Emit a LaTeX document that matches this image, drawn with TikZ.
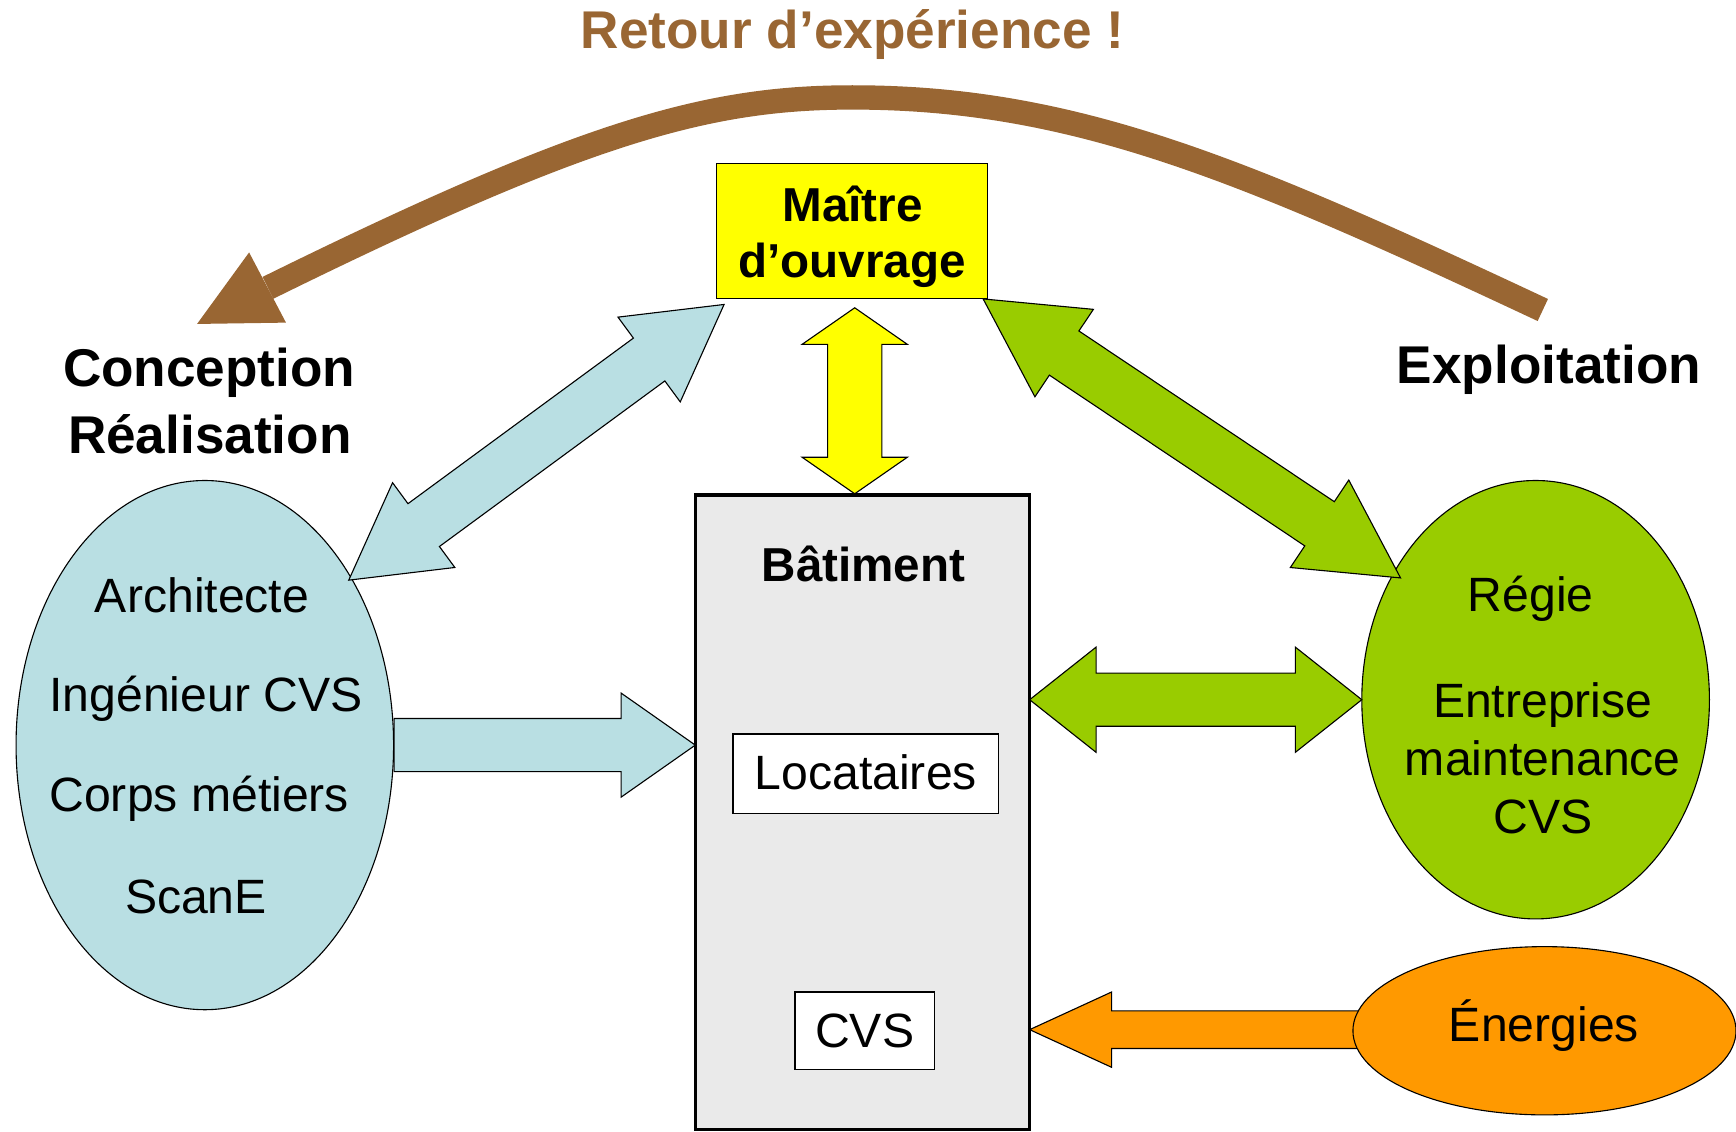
\documentclass[tikz,border=0pt]{standalone}
\usepackage{fontspec}
\setmainfont{Liberation Sans}
\usetikzlibrary{calc,shapes.geometric}
\definecolor{fbbrown}{RGB}{153,102,51}
\definecolor{lblue}{RGB}{185,223,227}
\definecolor{lgreen}{RGB}{153,204,0}
\definecolor{orng}{RGB}{255,153,0}
\definecolor{ylw}{RGB}{255,255,0}
\definecolor{bgrey}{RGB}{234,234,234}
\newcommand\dblarr[6]{%
  \draw[#6] (#1)
    -- ($(#1)!#3!(#2)!#5!90:(#2)$)
    -- ($(#1)!#3!(#2)!#4!90:(#2)$)
    -- ($(#2)!#3!(#1)!#4!-90:(#1)$)
    -- ($(#2)!#3!(#1)!#5!-90:(#1)$)
    -- (#2)
    -- ($(#2)!#3!(#1)!#5!90:(#1)$)
    -- ($(#2)!#3!(#1)!#4!90:(#1)$)
    -- ($(#1)!#3!(#2)!#4!-90:(#2)$)
    -- ($(#1)!#3!(#2)!#5!-90:(#2)$)
    -- cycle;}
\newcommand\sglarr[6]{%
  \draw[#6] (#2)
    -- ($(#2)!#3!(#1)!#5!90:(#1)$)
    -- ($(#2)!#3!(#1)!#4!90:(#1)$)
    -- ($(#1)!#4!-90:(#2)$)
    -- ($(#1)!#4!90:(#2)$)
    -- ($(#2)!#3!(#1)!#4!-90:(#1)$)
    -- ($(#2)!#3!(#1)!#5!-90:(#1)$)
    -- cycle;}
\tikzset{
  lbl/.style={inner sep=0pt, anchor=base, font=\fontsize{43.5}{52}\selectfont},
  blbl/.style={inner sep=0pt, anchor=base, font=\fontsize{48}{56}\selectfont\bfseries},
  mlbl/.style={inner sep=0pt, anchor=base, font=\fontsize{43}{52}\selectfont\bfseries},
  ell/.style={ellipse, draw=black, line width=1pt, inner sep=0pt},
  box/.style={rectangle, draw=black, inner sep=0pt},
  blockarr/.style={draw=black, line width=1pt, line join=miter},
  fbshaft/.style={draw=fbbrown, line width=22pt},
}
\begin{document}
\begin{tikzpicture}[x=1pt,y=-1pt]
\useasboundingbox (0,0) rectangle (1568,1022);
% shapes
\node[box, fill=ylw, line width=1pt, minimum width=245pt, minimum height=122pt] (mo) at (769.5,209) {};
\node[box, fill=bgrey, line width=3pt, minimum width=302pt, minimum height=573pt] (bat) at (779,733.5) {};
\node[box, fill=white, line width=1.3pt, minimum width=240pt, minimum height=72pt] (loc) at (782,699) {};
\node[box, fill=white, line width=1.3pt, minimum width=126pt, minimum height=70pt] (cvsb) at (781,931) {};
\node[ell, fill=lblue, minimum width=341pt, minimum height=478pt] (be) at (185,673) {};
\node[ell, fill=lgreen, minimum width=314pt, minimum height=396pt] (ge) at (1387,632) {};
% arrow end points
\coordinate (yT) at (772,278);
\coordinate (yB) at (772,446);
\coordinate (bA) at (654,275);
\coordinate (bB) at (315,524);
\coordinate (gA) at (888,270);
\coordinate (gB) at (1265,522);
\coordinate (brS) at (356,673);
\coordinate (brT) at (628,673);
\coordinate (ghL) at (930,632);
\coordinate (ghR) at (1230,632);
\coordinate (oS) at (1232,930);
\coordinate (oT) at (930,930);
% block arrows
\dblarr{yT}{yB}{33pt}{24.5pt}{47.5pt}{blockarr, fill=ylw}
\dblarr{bA}{bB}{84pt}{24pt}{47.5pt}{blockarr, fill=lblue}
\dblarr{gA}{gB}{88pt}{24pt}{47.5pt}{blockarr, fill=lgreen}
\sglarr{brS}{brT}{67pt}{24pt}{47pt}{blockarr, fill=lblue}
\dblarr{ghL}{ghR}{60pt}{24pt}{47.5pt}{blockarr, fill=lgreen}
\sglarr{oS}{oT}{74pt}{17pt}{34pt}{blockarr, fill=orng}
\node[ell, fill=orng, minimum width=346pt, minimum height=152pt] (oe) at (1395,931) {};
% feedback arrow
\coordinate (fbS) at (1393.5,280);
\coordinate (fbTop) at (770,88);
\coordinate (fbE) at (242,260);
\coordinate (fbTip) at (178,292.6);
\coordinate (fbH1) at (225,228);
\coordinate (fbH2) at (258.3,291.4);
\draw[fbshaft] (fbS) .. controls (1121.5,152.5) and (970,88) .. (fbTop)
  .. controls (640,88) and (530,118) .. (fbE);
\fill[fbbrown] (fbTip) -- (fbH1) -- (fbH2) -- cycle;
% texts
\node[blbl, text=fbbrown] (title) at (770,44) {Retour d’expérience !};
\node[mlbl] (mo1) at (770,200) {Maître};
\node[mlbl] (mo2) at (769.5,251) {d’ouvrage};
\node[blbl] (cr1) at (189,349) {Conception};
\node[blbl] (cr2) at (189.5,410) {Réalisation};
\node[blbl] (expl) at (1399,346) {Exploitation};
\node[mlbl] (batl) at (780,525) {Bâtiment};
\node[lbl] (arch) at (182.5,553) {Architecte};
\node[lbl] (ing) at (186,643) {Ingénieur CVS};
\node[lbl] (corps) at (180,733) {Corps métiers};
\node[lbl] (scan) at (177,825) {ScanE};
\node[lbl] (reg) at (1382.5,552) {Régie};
\node[lbl] (ent1) at (1393.5,648) {Entreprise};
\node[lbl] (ent2) at (1393.5,700) {maintenance};
\node[lbl] (ent3) at (1393.5,752.5) {CVS};
\node[lbl] (locl) at (782,713) {Locataires};
\node[lbl] (cvsl) at (781,946) {CVS};
\node[lbl] (ener) at (1394.5,941) {Énergies};
\end{tikzpicture}
\end{document}
